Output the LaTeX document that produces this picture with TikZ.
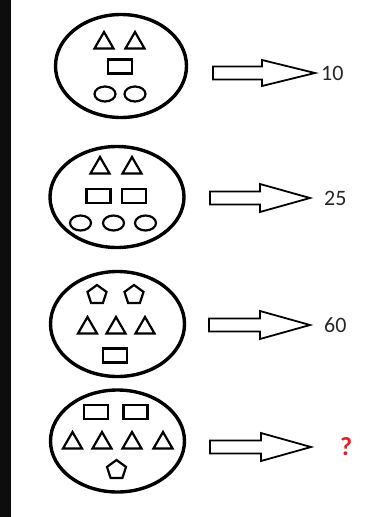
\documentclass[tikz,border=0pt]{standalone}
\usepackage{fontspec}
\setmainfont{Carlito}
\usetikzlibrary{shapes.geometric,positioning}
\definecolor{qred}{RGB}{226,30,36}
\tikzset{
  plate/.style={draw, ellipse, line width=3.4pt, minimum width=134pt, minimum height=102pt, inner sep=0pt},
  tri/.style={draw, regular polygon, regular polygon sides=3, line width=2.2pt, minimum size=22pt, inner sep=0pt},
  penta/.style={draw, regular polygon, regular polygon sides=5, line width=2.2pt, minimum size=20pt, inner sep=0pt},
  slab/.style={draw, rectangle, line width=2.2pt, minimum width=24pt, minimum height=14pt, inner sep=0pt},
  ring/.style={draw, ellipse, line width=2.2pt, minimum width=21pt, minimum height=15pt, inner sep=0pt},
  blockarrow/.style={draw, line width=1.8pt, line join=miter},
  num/.style={font=\fontsize{22}{26}\selectfont, text=black!85, inner sep=0pt},
}
\begin{document}
\begin{tikzpicture}[x=1pt, y=-1pt]
            \useasboundingbox (0,0) rectangle (368,517);
            \fill[black!95] (0,0) rectangle (11,517);

            %first plate
            \node[plate, minimum width=131pt, minimum height=103pt] (e1) at (121,66) {};
            \node[tri] (e1t1) at (104,43) {};
            \node[tri] (e1t2) at (135,43) {};
            \node[slab] (e1r1) at (120,66.5) {};
            \node[ring] (e1c1) at (105,94) {};
            \node[ring] (e1c2) at (135,94) {};

            \draw[blockarrow] (213,66.5) -- (262,66.5) -- (262,60) -- (315,73) -- (262,86) -- (262,79.5) -- (213,79.5) -- cycle;
            \coordinate (a1) at (315,73);
            \node[num, right=6pt of a1] (n1) {10};

            %second plate
            \node[plate, minimum height=101pt] (e2) at (117,197) {};
            \node[tri] (e2t1) at (100,168) {};
            \node[tri] (e2t2) at (132,168) {};
            \node[slab] (e2r1) at (98.5,196) {};
            \node[slab] (e2r2) at (134,196) {};
            \node[ring] (e2c1) at (80.5,223) {};
            \node[ring] (e2c2) at (113.5,223) {};
            \node[ring] (e2c3) at (145.5,223) {};

            \draw[blockarrow] (210,191.5) -- (260,191.5) -- (260,184) -- (310,198) -- (260,212) -- (260,204.5) -- (210,204.5) -- cycle;
            \coordinate (a2) at (310,198);
            \node[num, right=14pt of a2] (n2) {25};

            %third plate
            \node[plate, minimum height=105pt] (e3) at (117.5,324) {};
            \node[penta] (e3p1) at (97,295) {};
            \node[penta] (e3p2) at (134,295) {};
            \node[tri] (e3t1) at (87.5,328) {};
            \node[tri] (e3t2) at (116,328) {};
            \node[tri] (e3t3) at (145,328) {};
            \node[slab] (e3r1) at (115,355.5) {};

            \draw[blockarrow] (209,318.5) -- (260,318.5) -- (260,311) -- (310,325) -- (260,339) -- (260,331.5) -- (209,331.5) -- cycle;
            \coordinate (a3) at (310,325);
            \node[num, right=14pt of a3] (n3) {60};

            %fourth plate
            \node[plate] (e4) at (117.5,441) {};
            \node[slab] (e4r1) at (96,412) {};
            \node[slab] (e4r2) at (135.5,412) {};
            \node[tri] (e4t1) at (72.5,443) {};
            \node[tri] (e4t2) at (102,443) {};
            \node[tri] (e4t3) at (132,443) {};
            \node[tri] (e4t4) at (163,443) {};
            \node[penta] (e4p1) at (116.5,470) {};

            \draw[blockarrow] (210,440.5) -- (261,440.5) -- (261,433) -- (311,447) -- (261,461) -- (261,453.5) -- (210,453.5) -- cycle;
            \coordinate (a4) at (311,447);
            \node[num, text=qred, font=\fontsize{26}{30}\selectfont\bfseries, right=29pt of a4] (n4) {?};
        \end{tikzpicture}
\end{document}
